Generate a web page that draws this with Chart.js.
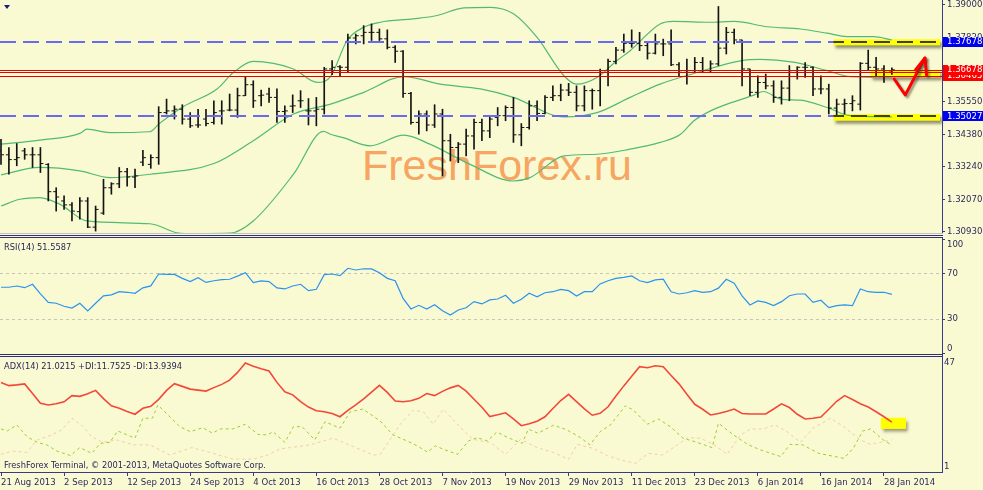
<!DOCTYPE html>
<html><head><meta charset="utf-8">
<script src="https://cdn.jsdelivr.net/npm/chart.js@4.4.1/dist/chart.umd.min.js"></script>
<style>
html,body{margin:0;padding:0;background:#FAFAD2;overflow:hidden}
#wrap{position:relative;width:983px;height:490px;background:#FAFAD2;overflow:hidden}
canvas{position:absolute;left:0;top:0}
.txt{position:absolute;font-family:'DejaVu Sans Condensed','DejaVu Sans','Liberation Sans',sans-serif;font-size:9.2px;color:#26265A;white-space:nowrap;line-height:12px}
#wm{position:absolute;left:362px;top:143.6px;font-family:'Liberation Sans',Arial,sans-serif;font-size:43px;line-height:43px;color:#F6A562;white-space:nowrap}
.sep{position:absolute;left:0;width:943px;height:1px;background:#2F2F7F}
#tri{position:absolute;left:4px;top:5px;width:0;height:0;border-left:3px solid transparent;border-right:3px solid transparent;border-top:4px solid #1A1A80}
</style></head>
<body><div id="wrap">
<div id="wm">FreshForex.ru</div>
<canvas id="cMain" width="983" height="490"></canvas>
<canvas id="cRsi" width="983" height="490"></canvas>
<canvas id="cAdx" width="983" height="490"></canvas>
<div class="sep" style="top:233px;background:#C4C4B4"></div>
<div class="sep" style="top:235px"></div>
<div class="sep" style="top:237px"></div>
<div class="sep" style="top:354px"></div>
<div class="sep" style="top:356px"></div>
<div id="tri"></div>
<div class="txt" style="left:4px;top:240.5px">RSI(14) 51.5587</div>
<div class="txt" style="left:4px;top:360px">ADX(14) 21.0215 +DI:11.7525 -DI:13.9394</div>
<div class="txt" style="left:4px;top:459px">FreshForex Terminal, © 2001-2013, MetaQuotes Software Corp.</div>
</div>
<script>
// ---------------- data ----------------
const dateLabels = ['21 Aug 2013','2 Sep 2013','12 Sep 2013','24 Sep 2013','4 Oct 2013','16 Oct 2013','28 Oct 2013','7 Nov 2013','19 Nov 2013','29 Nov 2013','11 Dec 2013','23 Dec 2013','6 Jan 2014','16 Jan 2014','28 Jan 2014'];
const labelStep = 8; // bars between date labels

const open = [1.3380,1.3366,1.3349,1.3380,1.3366,1.3366,1.3332,1.3235,1.3202,1.3188,
1.3164,1.3202,1.3109,1.3159,1.3249,1.3263,1.3306,1.3287,1.3340,1.3332,
1.3356,1.3516,1.3522,1.3528,1.3493,1.3472,1.3493,1.3481,1.3522,1.3525,
1.3525,1.3576,1.3615,1.3576,1.3582,1.3570,1.3520,1.3539,1.3558,1.3522,
1.3522,1.3528,1.3671,1.3679,1.3677,1.3781,1.3789,1.3801,1.3801,1.3778,
1.3748,1.3734,1.3584,1.3481,1.3511,1.3472,1.3511,1.3416,1.3392,1.3404,
1.3433,1.3481,1.3451,1.3499,1.3505,1.3534,1.3437,1.3463,1.3540,1.3513,
1.3570,1.3576,1.3596,1.3588,1.3540,1.3594,1.3594,1.3665,1.3698,1.3738,
1.3762,1.3762,1.3754,1.3727,1.3760,1.3760,1.3686,1.3659,1.3665,1.3694,
1.3665,1.3689,1.3745,1.3801,1.3774,1.3671,1.3588,1.3623,1.3611,1.3570,
1.3603,1.3665,1.3677,1.3677,1.3600,1.3600,1.3532,1.3546,1.3548,1.3546,
1.3691,1.3677,1.3671,1.3664];
const high = [1.3421,1.3392,1.3406,1.3389,1.3392,1.3392,1.3335,1.3249,1.3220,1.3196,
1.3214,1.3214,1.3184,1.3279,1.3267,1.3321,1.3318,1.3315,1.3382,1.3366,
1.3537,1.3564,1.3540,1.3544,1.3516,1.3528,1.3528,1.3558,1.3558,1.3582,
1.3603,1.3644,1.3629,1.3596,1.3603,1.3600,1.3540,1.3579,1.3594,1.3566,
1.3570,1.3677,1.3701,1.3683,1.3795,1.3795,1.3825,1.3831,1.3813,1.3810,
1.3754,1.3736,1.3588,1.3522,1.3522,1.3544,1.3528,1.3439,1.3410,1.3457,
1.3493,1.3493,1.3505,1.3534,1.3540,1.3570,1.3477,1.3558,1.3558,1.3576,
1.3611,1.3617,1.3620,1.3611,1.3611,1.3600,1.3671,1.3706,1.3748,1.3795,
1.3810,1.3801,1.3766,1.3795,1.3777,1.3810,1.3694,1.3706,1.3712,1.3712,
1.3700,1.3893,1.3819,1.3813,1.3774,1.3671,1.3647,1.3653,1.3629,1.3629,
1.3683,1.3679,1.3694,1.3679,1.3647,1.3617,1.3564,1.3564,1.3576,1.3694,
1.3738,1.3712,1.3683,1.3675];
const low = [1.3332,1.3297,1.3327,1.3350,1.3321,1.3303,1.3202,1.3166,1.3172,1.3131,
1.3137,1.3107,1.3095,1.3154,1.3226,1.3249,1.3255,1.3249,1.3327,1.3318,
1.3332,1.3511,1.3493,1.3475,1.3463,1.3463,1.3469,1.3475,1.3475,1.3522,
1.3499,1.3576,1.3534,1.3540,1.3552,1.3481,1.3481,1.3516,1.3534,1.3472,
1.3469,1.3511,1.3651,1.3647,1.3659,1.3760,1.3760,1.3772,1.3772,1.3742,
1.3694,1.3570,1.3475,1.3439,1.3451,1.3463,1.3291,1.3344,1.3338,1.3362,
1.3386,1.3416,1.3427,1.3469,1.3487,1.3410,1.3398,1.3457,1.3487,1.3511,
1.3558,1.3558,1.3576,1.3522,1.3522,1.3528,1.3540,1.3611,1.3689,1.3730,
1.3748,1.3736,1.3706,1.3724,1.3718,1.3683,1.3647,1.3617,1.3659,1.3659,
1.3659,1.3683,1.3724,1.3760,1.3611,1.3576,1.3570,1.3600,1.3552,1.3546,
1.3558,1.3635,1.3641,1.3576,1.3582,1.3511,1.3505,1.3511,1.3522,1.3525,
1.3665,1.3647,1.3623,1.3652];
const close = [1.3366,1.3349,1.3356,1.3366,1.3366,1.3335,1.3235,1.3216,1.3188,1.3166,
1.3202,1.3109,1.3172,1.3249,1.3263,1.3306,1.3287,1.3291,1.3356,1.3356,
1.3516,1.3522,1.3528,1.3493,1.3469,1.3472,1.3477,1.3516,1.3522,1.3525,
1.3576,1.3615,1.3558,1.3578,1.3570,1.3520,1.3522,1.3540,1.3558,1.3522,
1.3528,1.3671,1.3677,1.3677,1.3781,1.3789,1.3801,1.3801,1.3778,1.3748,
1.3734,1.3584,1.3481,1.3511,1.3472,1.3511,1.3416,1.3392,1.3404,1.3433,
1.3481,1.3451,1.3493,1.3505,1.3534,1.3437,1.3463,1.3540,1.3513,1.3570,
1.3576,1.3596,1.3588,1.3540,1.3594,1.3594,1.3665,1.3698,1.3738,1.3762,
1.3762,1.3754,1.3727,1.3760,1.3760,1.3686,1.3659,1.3665,1.3694,1.3665,
1.3689,1.3745,1.3801,1.3774,1.3671,1.3588,1.3623,1.3611,1.3570,1.3603,
1.3665,1.3677,1.3677,1.3600,1.3600,1.3532,1.3546,1.3548,1.3558,1.3691,
1.3677,1.3671,1.3665,1.3668];

// Bollinger bands, read as [bar index, price]
const bbUpper = [[0,1.3404],[2.4,1.3410],[4.9,1.3418],[10.0,1.3442],[10.9,1.3457],[13.8,1.3445],[18.9,1.3448],[20.0,1.3475],[23.1,1.3537],[27.4,1.3600],[29.5,1.3659],[32.0,1.3698],[37.1,1.3671],[40.1,1.3623],[41.8,1.3644],[43.9,1.3772],[46.0,1.3819],[48.1,1.3837],[52.3,1.3849],[55.3,1.3861],[58.7,1.3888],[62.1,1.3890],[65.0,1.3867],[68.0,1.3783],[71.4,1.3647],[73.0,1.3617],[75.6,1.3641],[78.1,1.3700],[79.8,1.3736],[83.6,1.3831],[85.3,1.3840],[90.0,1.3837],[93.0,1.3840],[97.2,1.3821],[101.4,1.3813],[104.8,1.3798],[107.3,1.3786],[110.7,1.3786],[113,1.3774]];
const bbMiddle = [[0,1.3295],[4.9,1.3321],[10.0,1.3309],[13.8,1.3285],[18.9,1.3297],[27.0,1.3335],[32.0,1.3416],[37.1,1.3511],[41.8,1.3546],[46.0,1.3588],[51.1,1.3644],[55.7,1.3617],[60.8,1.3600],[65.0,1.3570],[71.4,1.3501],[75.6,1.3516],[79.8,1.3570],[83.6,1.3617],[87.9,1.3655],[93.8,1.3700],[96.3,1.3705],[100.5,1.3695],[104.8,1.3665],[107.7,1.3644],[113,1.3641]];
const bbLower = [[0,1.3184],[2.4,1.3208],[4.9,1.3214],[7.5,1.3190],[10.9,1.3131],[18.9,1.3121],[22.3,1.3089],[23.6,1.3086],[29.1,1.3088],[32.0,1.3131],[37.1,1.3297],[40.9,1.3449],[41.8,1.3439],[43.4,1.3427],[46.8,1.3398],[51.1,1.3436],[54.4,1.3404],[59.5,1.3332],[65.0,1.3273],[67.1,1.3285],[71.4,1.3362],[75.6,1.3368],[79.8,1.3386],[83.6,1.3410],[86.2,1.3439],[87.9,1.3487],[90.0,1.3522],[92.1,1.3546],[95.5,1.3578],[96.7,1.3591],[98.9,1.3564],[101.4,1.3560],[104.8,1.3534],[107.7,1.3505],[113,1.3501]];

const priceTicks = [1.39000,1.37820,1.36685,1.35550,1.34380,1.33240,1.32070,1.30930];
const dashedLevels = [1.37678, 1.35027];
const redLevels = [1.36678, 1.36590, 1.36465];
const priceTags = [1.36465, 1.36678, 1.37678, 1.35027];

const rsi = [57.8,57.8,58.9,57.4,60.4,52.0,44.6,43.8,41.2,39.6,
43.8,37.0,43.8,50.2,51.2,53.9,53.4,52.5,57.3,59.0,
69.4,69.1,69.0,65.6,62.7,66.2,62.0,63.5,64.4,64.8,
67.5,70.5,61.8,63.3,62.7,57.2,56.3,58.9,60.4,54.8,
56.0,68.8,69.4,67.9,74.4,72.9,74.0,73.8,70.5,65.6,
63.5,48.1,38.8,42.0,38.8,42.5,37.3,33.5,37.9,39.9,
45.2,43.2,46.7,47.5,50.8,43.8,47.3,52.5,49.5,53.0,
53.9,56.0,54.8,50.2,53.9,53.9,60.7,63.5,65.6,66.5,
67.7,63.5,61.8,64.2,64.8,53.9,51.9,53.0,54.8,53.4,
53.9,57.0,64.8,61.3,50.2,42.3,45.8,44.6,41.7,45.2,
50.4,51.9,51.9,44.6,46.4,39.9,41.7,42.3,41.7,56.3,
53.9,53.4,53.4,51.6];
const rsiLevels = [30, 70];
const rsiTicks = [0, 30, 70, 100];

const adx = [37.0,35.7,36.0,36.4,32.5,28.6,27.9,28.4,29.2,31.7,
31.4,32.4,33.8,30.5,27.6,26.6,25.3,24.2,26.6,27.4,
30.2,33.8,36.5,35.4,34.3,33.9,33.5,34.9,36.2,37.9,
41.0,44.8,43.5,42.5,41.6,37.0,33.2,32.0,29.3,27.1,
25.6,25.2,24.5,23.2,25.8,28.0,30.4,33.1,35.8,33.0,
29.5,29.2,29.6,30.6,32.5,31.7,33.4,34.8,35.8,33.5,
30.2,27.0,23.3,24.0,24.8,22.3,19.6,20.4,21.4,23.2,
26.5,29.7,32.2,29.3,26.4,23.8,24.6,27.2,31.5,35.6,
39.5,43.3,42.9,43.7,43.3,39.8,36.4,32.2,28.2,26.2,
23.9,24.5,25.3,26.3,24.5,24.3,24.3,24.3,26.3,28.4,
26.9,24.2,22.3,22.6,23.1,26.2,29.4,31.7,30.1,28.4,
27.1,25.2,23.2,21.0];
const adxTicks = [1, 47];
const diPlus = [[0,18.3],[0.8,17.5],[2.0,19.9],[3.3,15.2],[4.6,12.9],[5.8,11.9],[7.1,9.4],[8.8,7.6],[10.0,10.8],[11.5,8.5],[12.6,12.5],[13.8,12.9],[14.8,17.5],[16.0,15.9],[17.0,14.6],[18.0,22.6],[19.2,22.6],[19.9,27.9],[22.7,19.2],[24.0,17.2],[25.6,18.8],[26.8,16.6],[27.8,18.3],[29.4,18.3],[31.0,20.2],[32.6,16.1],[33.8,15.9],[34.5,17.2],[36.0,12.9],[37.1,19.2],[38.2,19.2],[39.8,13.9],[41.1,21.2],[43.0,18.6],[44.3,25.2],[45.9,26.3],[48.1,21.5],[49.7,15.9],[51.5,13.5],[52.8,11.5],[54.1,9.0],[55.1,11.5],[56.3,9.9],[57.9,8.1],[59.3,13.5],[60.4,14.8],[61.7,13.5],[62.9,17.1],[64.3,14.8],[66.1,12.5],[66.9,18.2],[68.1,16.6],[70.1,19.8],[71.8,17.9],[73.5,14.8],[74.7,11.9],[76.0,17.2],[77.3,19.9],[79.2,27.6],[80.2,25.9],[82.0,20.2],[83.4,22.3],[84.9,19.2],[86.5,14.6],[88.3,12.9],[90.2,10.8],[91.0,20.6],[92.9,15.9],[94.7,12.1],[96.3,9.9],[98.9,7.2],[100.1,12.1],[101.7,11.9],[103.7,8.5],[106.9,6.5],[108.1,10.5],[109.3,17.5],[110.3,18.3],[111.9,13.9],[113,11.75]];
const diMinus = [[0,8.1],[1.5,9.4],[3.3,8.9],[4.6,13.9],[6.2,15.6],[7.7,17.9],[9.0,22.6],[10.3,19.6],[11.5,15.2],[12.9,12.9],[14.7,13.9],[16.8,11.9],[18.9,11.9],[21.4,7.8],[24.2,10.8],[26.9,8.5],[29.4,6.2],[32.0,6.2],[33.8,7.8],[35.4,10.3],[36.7,10.8],[39.2,11.9],[42.1,14.6],[44.7,11.2],[47.2,7.8],[48.1,8.1],[50.6,20.0],[52.3,25.9],[53.6,25.1],[54.8,20.2],[56.1,26.2],[58.3,18.8],[59.9,14.1],[62.1,12.8],[64.0,8.1],[65.9,14.1],[68.0,10.8],[70.1,8.8],[72.0,6.1],[73.1,12.1],[75.1,10.5],[76.9,7.6],[78.6,5.8],[80.5,4.5],[82.1,8.5],[83.9,7.8],[85.8,11.9],[87.1,14.8],[88.7,14.6],[90.4,12.1],[92.1,8.1],[93.8,15.9],[95.1,18.3],[96.7,18.3],[98.2,19.9],[99.7,17.2],[101.4,12.9],[103.0,18.6],[105.2,22.6],[106.9,19.2],[109.0,13.9],[110.3,12.1],[113,13.94]];

// hand-drawn annotations, in data units
const highlightZones = [[105.6,1.37764,1.37550],[110.3,1.36648,1.36414],[105.6,1.35110,1.34872]];
const arrowPath = [[113.3,1.36353],[114.7,1.35785],[117.2,1.37099]];
const arrowHead = [[116.0,1.36673],[117.2,1.37099],[117.4,1.36495]];
const adxHighlight = [111.6,22.8,114.8,18.3];

// ---------------- styling ----------------
const AXIS = '#3A3A8A';
const TXT = '#2B2B5E';
const GREEN = '#52BA72';
const AXIS_W = 41;
const X_MIN = -0.127, X_MAX = 119.36;
const FONT = "'DejaVu Sans Condensed','DejaVu Sans','Liberation Sans',sans-serif";
Chart.defaults.font.family = FONT;
Chart.defaults.font.size = 9.5;
Chart.defaults.color = TXT;

function baseOptions(top, bottom){
  return {responsive:false, devicePixelRatio:1, animation:false, events:[],
    layout:{padding:{top:top,bottom:bottom,left:0,right:0}, autoPadding:false},
    plugins:{legend:{display:false}, tooltip:{enabled:false}}};
}
const fixWidth = s => { s.width = AXIS_W; s.paddingTop = 0; s.paddingBottom = 0; };
const xHidden = () => ({type:'linear', min:X_MIN, max:X_MAX, display:false, offset:false, grid:{offset:false}});
// edge labels sit just inside the panel, as in the terminal: top one below its level, bottom one above
function edgeLabel(v, top, bottom){
  const s = String(v);
  if (v === top) return ['', s];
  if (v === bottom) return [s, ''];
  return s;
}
const toXY = arr => arr.map(p => ({x:p[0], y:p[1]}));
const idx = open.map((_, i) => i);

// ---------------- main price chart ----------------
const P_MIN = 1.30882, P_MAX = 1.3916;
const mainDecor = {
  id:'mainDecor',
  beforeDatasetsDraw(chart){
    const {ctx, chartArea:a, scales:{x, y}} = chart;
    ctx.save();
    ctx.shadowColor = 'rgba(60,60,40,0.55)'; ctx.shadowOffsetX = 2; ctx.shadowOffsetY = 3; ctx.shadowBlur = 3;
    ctx.fillStyle = '#FFFF00';
    highlightZones.forEach(z => {
      const x0 = x.getPixelForValue(z[0]), y0 = y.getPixelForValue(z[1]), y1 = y.getPixelForValue(z[2]);
      ctx.fillRect(x0, y0, a.right - 2 - x0, y1 - y0);
    });
    ctx.restore();
  },
  afterDatasetsDraw(chart){
    const {ctx, chartArea:a, scales:{x, y}} = chart;
    ctx.save();
    ctx.setLineDash([16,7]); ctx.lineWidth = 2; ctx.strokeStyle = '#6A6AEE';
    dashedLevels.forEach(v => { const py = Math.round(y.getPixelForValue(v)); ctx.beginPath(); ctx.moveTo(a.left, py); ctx.lineTo(a.right, py); ctx.stroke(); });
    highlightZones.forEach(z => {
      ctx.save();
      const x0 = x.getPixelForValue(z[0]), y0 = y.getPixelForValue(z[1]), y1 = y.getPixelForValue(z[2]);
      ctx.beginPath(); ctx.rect(x0, y0, a.right - 2 - x0, y1 - y0); ctx.clip();
      ctx.strokeStyle = '#3E3E2A';
      dashedLevels.forEach(v => { const py = Math.round(y.getPixelForValue(v)); ctx.beginPath(); ctx.moveTo(a.left, py); ctx.lineTo(a.right, py); ctx.stroke(); });
      ctx.restore();
    });
    ctx.setLineDash([]); ctx.lineWidth = 1.2; ctx.strokeStyle = '#E80000';
    redLevels.forEach(v => { const py = Math.round(y.getPixelForValue(v)) + 0.5; ctx.beginPath(); ctx.moveTo(a.left, py); ctx.lineTo(a.right, py); ctx.stroke(); });
    ctx.shadowColor = 'rgba(60,60,40,0.5)'; ctx.shadowOffsetX = 2; ctx.shadowOffsetY = 2; ctx.shadowBlur = 2;
    ctx.strokeStyle = '#FF0000'; ctx.lineWidth = 3; ctx.lineJoin = 'round'; ctx.lineCap = 'round';
    [arrowPath, arrowHead].forEach(path => {
      ctx.beginPath();
      path.forEach((p, i) => { const px = x.getPixelForValue(p[0]), py = y.getPixelForValue(p[1]); if (i) ctx.lineTo(px, py); else ctx.moveTo(px, py); });
      ctx.stroke();
    });
    ctx.restore();
  },
  afterDraw(chart){
    const {ctx, chartArea:a, scales:{y}} = chart;
    const colors = ['#FF0000','#FF0000','#0000F0','#0000F0'];
    ctx.save();
    ctx.font = '9.5px ' + FONT; ctx.textBaseline = 'middle'; ctx.textAlign = 'left';
    priceTags.forEach((v, i) => {
      const py = y.getPixelForValue(v);
      ctx.fillStyle = colors[i]; ctx.fillRect(a.right + 1, Math.round(py - 5), 983 - a.right - 1, 10);
      ctx.fillStyle = '#FFFFFF'; ctx.fillText(v.toFixed(5), a.right + 5, py);
    });
    ctx.restore();
  }
};
new Chart(document.getElementById('cMain'), {
  type:'line',
  data:{datasets:[
    {data:toXY(bbUpper), borderColor:GREEN, borderWidth:1.2, pointRadius:0, cubicInterpolationMode:'monotone', order:10},
    {data:toXY(bbMiddle), borderColor:GREEN, borderWidth:1.2, pointRadius:0, cubicInterpolationMode:'monotone', order:10},
    {data:toXY(bbLower), borderColor:GREEN, borderWidth:1.2, pointRadius:0, cubicInterpolationMode:'monotone', order:10},
    {type:'bar', data:idx.map(i => ({x:i, y:[low[i], high[i]]})), backgroundColor:'#141414', borderWidth:0, barThickness:1, grouped:false, order:2},
    {data:idx.map(i => ({x:i, y:open[i]})), showLine:false, pointStyle:'dash', pointRotation:180, pointRadius:3, pointBorderWidth:1, pointBorderColor:'#141414', pointBackgroundColor:'#141414', order:1},
    {data:idx.map(i => ({x:i, y:close[i]})), showLine:false, pointStyle:'dash', pointRotation:0, pointRadius:3, pointBorderWidth:1, pointBorderColor:'#141414', pointBackgroundColor:'#141414', order:1}
  ]},
  options:Object.assign(baseOptions(0, 257), {
    scales:{
      x:xHidden(),
      y:{type:'linear', position:'right', min:P_MIN, max:P_MAX,
        afterBuildTicks: s => { s.ticks = priceTicks.map(v => ({value:v})); }, afterFit: fixWidth,
        ticks:{padding:2, autoSkip:false, color:TXT, callback: v => Number(v).toFixed(5)},
        grid:{drawOnChartArea:false, drawTicks:true, tickLength:3, color:AXIS}, border:{color:AXIS, width:1}}
    }
  }),
  plugins:[mainDecor]
});

// ---------------- RSI ----------------
const R_MIN = -1.49, R_MAX = 100.9;
const rsiDecor = {
  id:'rsiDecor',
  beforeDatasetsDraw(chart){
    const {ctx, chartArea:a, scales:{y}} = chart;
    ctx.save(); ctx.setLineDash([3,3]); ctx.lineWidth = 1; ctx.strokeStyle = '#C6C6B6';
    rsiLevels.forEach(v => { const py = Math.round(y.getPixelForValue(v)) + 0.5; ctx.beginPath(); ctx.moveTo(a.left, py); ctx.lineTo(a.right, py); ctx.stroke(); });
    ctx.restore();
  }
};
new Chart(document.getElementById('cRsi'), {
  type:'line',
  data:{datasets:[{data:rsi.map((v, i) => ({x:i, y:v})), borderColor:'#2A93F0', borderWidth:1.2, pointRadius:0, tension:0}]},
  options:Object.assign(baseOptions(238, 135), {
    scales:{
      x:xHidden(),
      y:{type:'linear', position:'right', min:R_MIN, max:R_MAX,
        afterBuildTicks: s => { s.ticks = rsiTicks.map(v => ({value:v})); }, afterFit: fixWidth,
        ticks:{padding:2, autoSkip:false, color:TXT, font:{size:9.5, lineHeight:1.1}, callback: v => edgeLabel(v, 100, 0)},
        grid:{drawOnChartArea:false, drawTicks:true, tickLength:3, color:AXIS}, border:{color:AXIS, width:1}}
    }
  }),
  plugins:[rsiDecor]
});

// ---------------- ADX ----------------
const A_MIN = 1.0, A_MAX = 47.2;
const adxDecor = {
  id:'adxDecor',
  beforeDatasetsDraw(chart){
    const {ctx, scales:{x, y}} = chart;
    const x0 = x.getPixelForValue(adxHighlight[0]), y0 = y.getPixelForValue(adxHighlight[1]);
    const x1 = x.getPixelForValue(adxHighlight[2]), y1 = y.getPixelForValue(adxHighlight[3]);
    ctx.save();
    ctx.shadowColor = 'rgba(60,60,40,0.55)'; ctx.shadowOffsetX = 2; ctx.shadowOffsetY = 3; ctx.shadowBlur = 3;
    ctx.fillStyle = '#FFFF00'; ctx.fillRect(x0, y0, x1 - x0, y1 - y0);
    ctx.restore();
  }
};
new Chart(document.getElementById('cAdx'), {
  type:'line',
  data:{datasets:[
    {data:toXY(diMinus), borderColor:'#F3CBAA', borderWidth:1, borderDash:[3,3], pointRadius:0, tension:0, order:3},
    {data:toXY(diPlus), borderColor:'#9ACD32', borderWidth:1, borderDash:[3,3], pointRadius:0, tension:0, order:2},
    {data:adx.map((v, i) => ({x:i, y:v})), borderColor:'#F2483A', borderWidth:1.6, pointRadius:0, tension:0, order:1}
  ]},
  options:Object.assign(baseOptions(357, 0), {
    scales:{
      x:{type:'linear', position:'bottom', min:X_MIN, max:X_MAX, offset:false,
        afterBuildTicks: s => { s.ticks = dateLabels.map((_, k) => ({value:k * labelStep})); },
        afterFit: s => { s.height = 18; },
        ticks:{align:'start', maxRotation:0, minRotation:0, autoSkip:false, padding:1, color:TXT, callback:(v, i) => dateLabels[i]},
        grid:{drawOnChartArea:false, drawTicks:true, tickLength:4, color:AXIS, offset:false}, border:{color:AXIS, width:1}},
      y:{type:'linear', position:'right', min:A_MIN, max:A_MAX,
        afterBuildTicks: s => { s.ticks = adxTicks.map(v => ({value:v})); }, afterFit: fixWidth,
        ticks:{padding:2, autoSkip:false, color:TXT, font:{size:9.5, lineHeight:1.15}, callback: v => edgeLabel(v, 47, 1)},
        grid:{drawOnChartArea:false, drawTicks:false, color:AXIS}, border:{color:AXIS, width:1}}
    }
  }),
  plugins:[adxDecor]
});
</script>
</body></html>
